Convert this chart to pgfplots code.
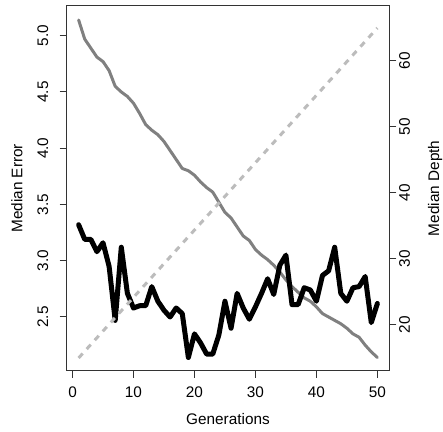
\documentclass[border=0pt]{standalone}
\usepackage{pgfplots}
\pgfplotsset{compat=1.18}
\usepackage{fontspec}
\setmainfont{Liberation Sans}

\definecolor{errgray}{RGB}{128,128,128}
\definecolor{depthgray}{RGB}{188,188,188}
\newcommand{\rfont}{\fontsize{11.5}{13.8}\selectfont}

\pgfplotsset{
  rbase/.style={
    at={(0,0)}, anchor=south west,
    scale only axis, width=242pt, height=273.5pt,
    xmin=-0.96, xmax=51.96,
    tick align=outside, major tick length=5.25pt,
    axis line style={black!80, line width=0.75pt},
    major tick style={black!80, line width=0.75pt},
    /pgf/number format/assume math mode=true,
    ticklabel style={font=\rfont},
  }
}

\begin{document}
\begin{tikzpicture}
\path[use as bounding box] (-50pt,-46pt) rectangle (282.25pt,278pt);

% left axis: median error
\begin{axis}[rbase,
  ymin=2.023, ymax=5.264,
  tick pos=left,
  xtick={0,10,...,50},
  ytick={2.5,3.0,3.5,4.0,4.5,5.0},
  yticklabel style={rotate=90, anchor=south,
    /pgf/number format/fixed, /pgf/number format/fixed zerofill,
    /pgf/number format/precision=1},
  xticklabel shift=3.5pt,
  yticklabel shift=5pt,
  xlabel={Generations}, ylabel={Median Error},
  every axis x label/.style={at={(axis description cs:0.5,-0.132)}, anchor=center, font=\rfont},
  every axis y label/.style={at={(axis description cs:-0.154,0.5)}, rotate=90, anchor=center, font=\rfont},
]
\addplot[errgray, line width=2.25pt, line join=round, line cap=round] coordinates {
(1,5.14) (2,4.97) (3,4.89) (4,4.81) (5,4.77) (6,4.69) (7,4.55) (8,4.50) (9,4.46) (10,4.40)
(11,4.31) (12,4.21) (13,4.16) (14,4.12) (15,4.06) (16,3.98) (17,3.90) (18,3.82) (19,3.80) (20,3.76)
(21,3.70) (22,3.65) (23,3.61) (24,3.52) (25,3.43) (26,3.38) (27,3.30) (28,3.22) (29,3.18) (30,3.10)
(31,3.05) (32,3.01) (33,2.96) (34,2.90) (35,2.83) (36,2.77) (37,2.72) (38,2.67) (39,2.64) (40,2.59)
(41,2.53) (42,2.50) (43,2.47) (44,2.44) (45,2.40) (46,2.35) (47,2.32) (48,2.25) (49,2.19) (50,2.14)
};
\addplot[black, line width=3.75pt, line join=round, line cap=round] coordinates {
(1,3.32) (2,3.19) (3,3.19) (4,3.08) (5,3.16) (6,2.95) (7,2.47) (8,3.12) (9,2.71) (10,2.58)
(11,2.60) (12,2.60) (13,2.77) (14,2.64) (15,2.56) (16,2.50) (17,2.58) (18,2.53) (19,2.14) (20,2.35)
(21,2.27) (22,2.17) (23,2.17) (24,2.34) (25,2.64) (26,2.40) (27,2.71) (28,2.58) (29,2.48) (30,2.59)
(31,2.71) (32,2.84) (33,2.70) (34,2.96) (35,3.05) (36,2.61) (37,2.61) (38,2.76) (39,2.74) (40,2.64)
(41,2.87) (42,2.91) (43,3.12) (44,2.71) (45,2.64) (46,2.76) (47,2.77) (48,2.86) (49,2.45) (50,2.62)
};
\end{axis}

% right axis: median depth
\begin{axis}[rbase,
  ymin=13.08, ymax=68.33,
  hide x axis,
  axis y line*=right,
  clip=false,
  ytick={20,30,...,60},
  yticklabel style={rotate=90, anchor=north},
  yticklabel shift=-1.5pt,
]
\addplot[depthgray, line width=2.25pt, dash pattern=on 4.5pt off 4.5pt] coordinates {
(1,15) (50,65)
};
\node[rotate=90, font=\rfont, anchor=center] at (axis description cs:1.142,0.5) {Median Depth};
\end{axis}
\end{tikzpicture}
\end{document}
